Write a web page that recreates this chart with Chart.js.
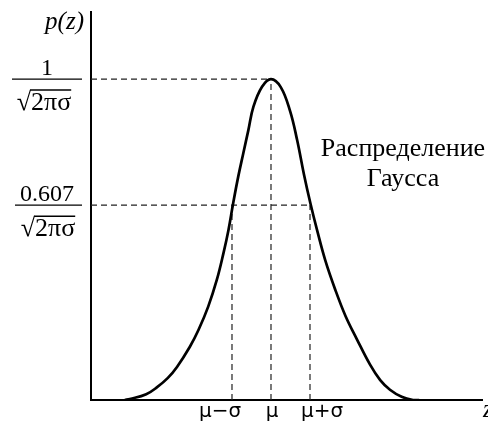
<!DOCTYPE html>
<html>
<head>
<meta charset="utf-8">
<script src="https://cdn.jsdelivr.net/npm/chart.js@4.4.1/dist/chart.umd.min.js"></script>
<style>
  html, body { margin: 0; padding: 0; background: #fff; }
  #wrap { width: 488px; height: 425px; }
</style>
</head>
<body>
<div id="wrap"><canvas id="gaussChart"></canvas></div>
<script>
// curve, x in units of sigma from mu, y relative to peak
const curveX = [-3.75, -3.62, -3.2, -2.92, -2.65, -2.41, -2.08, -1.86, -1.61, -1.39, -1.22, -1.09, -0.97, -0.84, -0.71, -0.58, -0.45, -0.23, 0, 0.25, 0.49, 0.67, 0.84, 1.01, 1.18, 1.39, 1.65, 1.91, 2.2, 2.54, 2.8, 3.05, 3.35, 3.64, 3.8];
const curveY = [0, 0.003, 0.018, 0.04, 0.068, 0.103, 0.166, 0.218, 0.291, 0.374, 0.457, 0.53, 0.613, 0.696, 0.769, 0.841, 0.914, 0.976, 1.0, 0.975, 0.9, 0.81, 0.706, 0.613, 0.53, 0.436, 0.343, 0.262, 0.19, 0.11, 0.062, 0.032, 0.01, 0.0, 0];

const xTickValues = [-1, 0, 1];
const xTickLabels = ['μ−σ', 'μ', 'μ+σ'];
const yTickValues = [1, 0.607];
const yTickNumerators = ['1', '0.607'];
const yTickDenominator = '√2πσ';

const xMin = -4.615, xMax = 5.41, yMax = 1.209;

const serif = '"Liberation Serif", "DejaVu Serif", serif';

const curvePoints = curveX.map((x, i) => ({x: x, y: curveY[i]}));
const guideStyle = {borderColor: '#222', borderWidth: 1.2, borderDash: [6, 4], pointRadius: 0, fill: false, tension: 0};

const guides = [
    [{x: xMin, y: yTickValues[0]}, {x: 0, y: yTickValues[0]}],
    [{x: xMin, y: yTickValues[1]}, {x: xTickValues[2], y: yTickValues[1]}],
    [{x: xTickValues[0], y: 0}, {x: xTickValues[0], y: yTickValues[1]}],
    [{x: xTickValues[1], y: 0}, {x: xTickValues[1], y: yTickValues[0]}],
    [{x: xTickValues[2], y: 0}, {x: xTickValues[2], y: yTickValues[1]}]
];

const labelPlugin = {
    id: 'labelPlugin',
    afterDraw(chart) {
        const ctx = chart.ctx;
        const xs = chart.scales.x, ys = chart.scales.y;
        ctx.save();
        ctx.fillStyle = '#000';
        ctx.strokeStyle = '#000';

        // y labels as fractions
        yTickValues.forEach((v, i) => {
            const by = ys.getPixelForValue(v);
            const cx = 47;
            ctx.lineWidth = 1.3;
            ctx.beginPath();
            ctx.moveTo(i === 0 ? 12 : 15, by);
            ctx.lineTo(82, by);
            ctx.stroke();

            ctx.font = '24px ' + serif;
            ctx.textAlign = 'center';
            ctx.textBaseline = 'alphabetic';
            ctx.fillText(yTickNumerators[i], cx, by - 4);

            ctx.font = '26px ' + serif;
            const dx = cx + (i === 0 ? -3 : 1);
            const w = ctx.measureText(yTickDenominator).width;
            const rw = ctx.measureText('√').width;
            const base = by + 31;
            ctx.textAlign = 'left';
            ctx.fillText(yTickDenominator, dx - w / 2, base);
            ctx.lineWidth = 1.4;
            ctx.beginPath();
            ctx.moveTo(dx - w / 2 + rw - 1, base - 20);
            ctx.lineTo(dx + w / 2, base - 20);
            ctx.stroke();
        });

        // x tick labels, side ones pushed outwards a little like the original
        const nudge = [-12, 1, 12];
        ctx.font = '20px "DejaVu Sans", sans-serif';
        ctx.textAlign = 'center';
        ctx.textBaseline = 'alphabetic';
        xTickValues.forEach((v, i) => {
            ctx.fillText(xTickLabels[i], xs.getPixelForValue(v) + nudge[i], 417);
        });

        // axis names
        ctx.font = 'italic 25px ' + serif;
        ctx.textAlign = 'right';
        ctx.fillText('p(z)', 84, 29);
        ctx.textAlign = 'left';
        ctx.fillText('z', 483, 417);

        // annotation
        ctx.font = '26px ' + serif;
        ctx.textAlign = 'center';
        ctx.fillText('Распределение', 403, 156);
        ctx.fillText('Гаусса', 403, 186);
        ctx.restore();
    }
};

const datasets = [{
    data: curvePoints,
    borderColor: '#000',
    borderWidth: 2.7,
    pointRadius: 0,
    fill: false,
    tension: 0.4
}].concat(guides.map(g => Object.assign({data: g}, guideStyle)));

new Chart(document.getElementById('gaussChart'), {
    type: 'line',
    data: {datasets: datasets},
    options: {
        responsive: true,
        maintainAspectRatio: false,
        animation: false,
        layout: {padding: {left: 91, top: 12, right: 6, bottom: 25}},
        plugins: {legend: {display: false}, tooltip: {enabled: false}},
        scales: {
            x: {
                type: 'linear', min: xMin, max: xMax,
                ticks: {display: false},
                grid: {display: false, drawTicks: false},
                border: {display: true, color: '#000', width: 2}
            },
            y: {
                type: 'linear', min: 0, max: yMax,
                ticks: {display: false},
                grid: {display: false, drawTicks: false},
                border: {display: true, color: '#000', width: 2}
            }
        }
    },
    plugins: [labelPlugin]
});
</script>
</body>
</html>
